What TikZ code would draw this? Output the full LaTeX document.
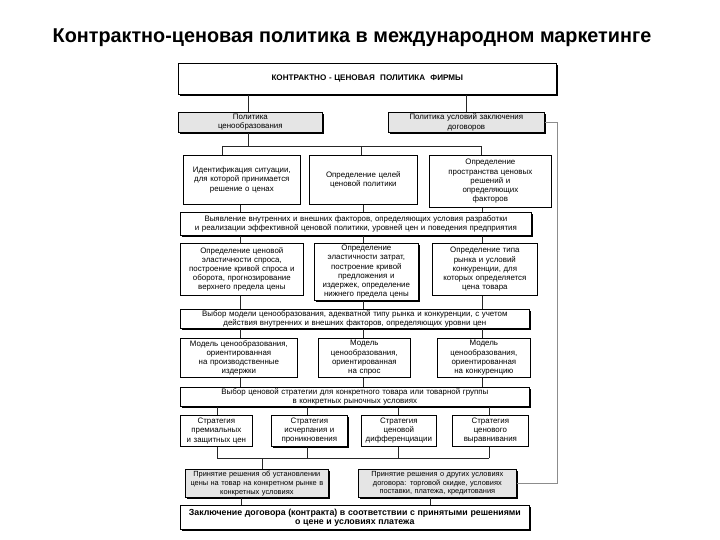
\documentclass[tikz,border=0pt]{standalone}
\usepackage{fontspec}
\setmainfont{Liberation Sans}
\usetikzlibrary{shadows}
\newcommand\bx[7]{%
 \pgfmathsetmacro\bxw{#4-#2}\pgfmathsetmacro\bxh{#5-#3}\pgfmathsetmacro\bxt{#4-#2-2}%
 \node[#6, anchor=north west, minimum width=\bxw pt, minimum height=\bxh pt, text width=\bxt pt, inner xsep=1pt, inner ysep=0pt] (#1) at (#2,#3) {#7};}
\tikzset{
 base/.style={draw=black, line width=0.7pt, align=center, font=\fontsize{7.9}{9.2}\selectfont, fill=white},
 shad/.style={base, drop shadow={shadow xshift=1.6pt, shadow yshift=-1.6pt, fill=black, opacity=1}},
 grayb/.style={shad, fill=black!10},
 small/.style={font=\fontsize{7.4}{8.8}\selectfont},
 link/.style={draw=black!85, line width=0.7pt}
}
\begin{document}
\begin{tikzpicture}[x=1pt,y=-1pt]
\useasboundingbox (0,0) rectangle (720,540);
\node[font=\bfseries\fontsize{20}{23}\selectfont, xscale=0.99] (title) at (352,38) {Контрактно-ценовая политика в международном маркетинге};

\bx{top}{178}{63}{556}{94}{shad}{\bfseries\fontsize{8.1}{9.5}\selectfont КОНТРАКТНО - ЦЕНОВАЯ\ \ ПОЛИТИКА\ \ ФИРМЫ}
\bx{p1}{178}{112}{322}{132}{grayb}{Политика\\ценообразования}
\bx{p2}{388}{112}{544}{132}{grayb}{Политика условий заключения\\договоров}

\bx{r2a}{183}{155}{300}{204}{base}{Идентификация ситуации,\\для которой принимается\\решение о ценах}
\bx{r2b}{309}{155}{417}{204}{base}{Определение целей\\ценовой политики}
\bx{r2c}{429}{155}{551}{207}{base}{Определение\\пространства ценовых\\решений и\\определяющих\\факторов}

\bx{w1}{180}{212}{531}{235}{shad}{Выявление внутренних и внешних факторов, определяющих условия разработки\\и реализации эффективной ценовой политики, уровней цен и поведения предприятия}

\bx{r4a}{180}{243}{303}{295}{base}{Определение ценовой\\эластичности спроса,\\построение кривой спроса и\\оборота, прогнозирование\\верхнего предела цены}
\bx{r4b}{314}{243}{418}{300}{shad}{Определение\\эластичности затрат,\\построение кривой\\предложения и\\издержек, определение\\нижнего предела цены}
\bx{r4c}{432}{243}{537}{295}{base}{Определение типа\\рынка и условий\\конкуренции, для\\которых определяется\\цена товара}

\bx{w2}{180}{309}{529}{328}{shad}{Выбор модели ценообразования, адекватной типу рынка и конкуренции, с учетом\\действия внутренних и внешних факторов, определяющих уровни цен}

\bx{r6a}{180}{338}{297}{377}{base}{Модель ценообразования,\\ориентированная\\на производственные\\издержки}
\bx{r6b}{318}{338}{410}{377}{base}{Модель\\ценообразования,\\ориентированная\\на спрос}
\bx{r6c}{437}{338}{530}{377}{base}{Модель\\ценообразования,\\ориентированная\\на конкуренцию}

\bx{w3}{180}{387}{529}{406}{shad}{Выбор ценовой стратегии для конкретного товара или товарной группы\\в конкретных рыночных условиях}

\bx{r8a}{180}{415}{252}{446}{base}{Стратегия\\премиальных\\и защитных цен}
\bx{r8b}{271}{415}{347}{446}{shad}{Стратегия\\исчерпания и\\проникновения}
\bx{r8c}{361}{415}{436}{446}{base}{Стратегия\\ценовой\\дифференциации}
\bx{r8d}{452}{415}{528}{446}{base}{Стратегия\\ценового\\выравнивания}

\bx{r9a}{185}{469}{328}{497}{grayb,small}{Принятие решения об установлении\\цены на товар на конкретном рынке в\\конкретных условиях}
\bx{r9b}{358}{469}{516}{497}{grayb,small}{Принятие решения о других условиях\\договора: торговой скидке, условиях\\поставки, платежа, кредитования}

\bx{w4}{180}{505}{529}{529}{shad}{\bfseries\fontsize{8.8}{10.2}\selectfont Заключение договора (контракта) в соответствии с принятыми решениями\\о цене и условиях платежа}

% column coordinates
\coordinate (xp1) at (248,0);
\coordinate (xp2) at (466,0);
\coordinate (bus1) at (0,146);
\coordinate (b1) at (222,0);
\coordinate (b2) at (361,0);
\coordinate (b3) at (481,0);
\coordinate (c1) at (240,0);
\coordinate (c2) at (363,0);
\coordinate (c3) at (482,0);
\coordinate (bus2) at (0,458);
\coordinate (d1) at (217,0);
\coordinate (d2) at (307,0);
\coordinate (d3) at (398,0);
\coordinate (d4) at (489,0);
\coordinate (e1) at (262,0);
\coordinate (f1) at (241,0);
\coordinate (f2) at (430,0);
\coordinate (rc) at (557,0);

\draw[link] (xp1 |- top.south) -- (xp1 |- p1.north);
\draw[link] (xp2 |- top.south) -- (xp2 |- p2.north);
\draw[link] (xp1 |- p1.south) -- (xp1 |- bus1);
\draw[link] (b1 |- bus1) -- (b3 |- bus1);
\draw[link] (b1 |- bus1) -- (b1 |- r2a.north);
\draw[link] (b2 |- bus1) -- (b2 |- r2b.north);
\draw[link] (b3 |- bus1) -- (b3 |- r2c.north);

\draw[link] (c1 |- r2a.south) -- (c1 |- w1.north);
\draw[link] (c2 |- r2b.south) -- (c2 |- w1.north);
\draw[link] (c3 |- r2c.south) -- (c3 |- w1.north);
\draw[link] (c1 |- w1.south) -- (c1 |- r4a.north);
\draw[link] (c2 |- w1.south) -- (c2 |- r4b.north);
\draw[link] (c3 |- w1.south) -- (c3 |- r4c.north);
\draw[link] (c1 |- r4a.south) -- (c1 |- w2.north);
\draw[link] (c2 |- r4b.south) -- (c2 |- w2.north);
\draw[link] (c3 |- r4c.south) -- (c3 |- w2.north);
\draw[link] (c1 |- w2.south) -- (c1 |- r6a.north);
\draw[link] (c2 |- w2.south) -- (c2 |- r6b.north);
\draw[link] (c3 |- w2.south) -- (c3 |- r6c.north);
\draw[link] (c1 |- r6a.south) -- (c1 |- w3.north);
\draw[link] (c2 |- r6b.south) -- (c2 |- w3.north);
\draw[link] (c3 |- r6c.south) -- (c3 |- w3.north);

\draw[link] (d1 |- w3.south) -- (d1 |- r8a.north);
\draw[link] (d2 |- w3.south) -- (d2 |- r8b.north);
\draw[link] (d3 |- w3.south) -- (d3 |- r8c.north);
\draw[link] (d4 |- w3.south) -- (d4 |- r8d.north);
\draw[link] (d1 |- r8a.south) -- (d1 |- bus2);
\draw[link] (d2 |- r8b.south) -- (d2 |- bus2);
\draw[link] (d3 |- r8c.south) -- (d3 |- bus2);
\draw[link] (d4 |- r8d.south) -- (d4 |- bus2);
\draw[link] (d1 |- bus2) -- (d4 |- bus2);
\draw[link] (e1 |- bus2) -- (e1 |- r9a.north);

\draw[link] (f1 |- r9a.south) -- (f1 |- w4.north);
\draw[link] (f2 |- r9b.south) -- (f2 |- w4.north);

\draw[link, draw=black!45] (p2.east) -- (p2.east -| rc) -- (rc |- r9b.east) -- (r9b.east);
\end{tikzpicture}
\end{document}
